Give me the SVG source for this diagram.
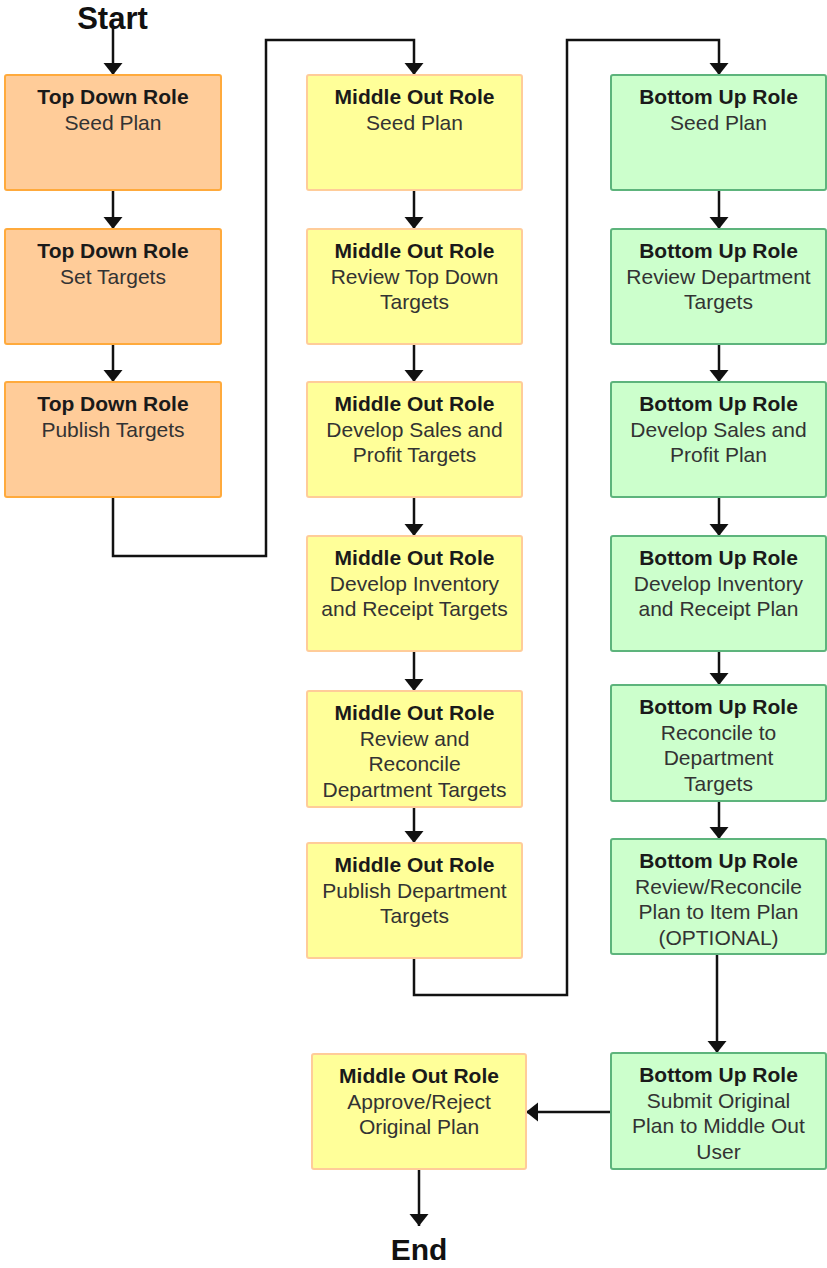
<svg xmlns="http://www.w3.org/2000/svg" width="827" height="1268" viewBox="0 0 827 1268">
<style>
.td{fill:#FFCC99;stroke:#FFAA3C;stroke-width:2}
.mo{fill:#FFFF99;stroke:#FFCC99;stroke-width:2}
.bu{fill:#CCFFCC;stroke:#5DB47C;stroke-width:2}
text{font-family:"Liberation Sans",Arial,sans-serif;font-size:21px;text-anchor:middle;fill:#333}
.t{font-weight:bold;fill:#1a1a1a}
.big{font-weight:bold;font-size:31px;fill:#111}
.end{font-size:30px}
.c{fill:none;stroke:#111;stroke-width:2.5;marker-end:url(#ah)}
</style>
<defs>
<marker id="ah" markerUnits="userSpaceOnUse" markerWidth="14" markerHeight="20" refX="12" refY="9.5" orient="auto">
<path d="M0,0 L12,9.5 L0,19 Z" fill="#111"/>
</marker>
</defs>
<text class="big" x="112.5" y="29">Start</text>
<text class="big end" x="419" y="1260">End</text>
<g id="connectors">
<path class="c" d="M113,28 V75"/>
<path class="c" d="M113,190 V229"/>
<path class="c" d="M113,344 V382"/>
<path class="c" d="M113,497 V556 H266 V40 H414 V75"/>
<path class="c" d="M414,190 V229"/>
<path class="c" d="M414,344 V382"/>
<path class="c" d="M414,497 V536"/>
<path class="c" d="M414,651 V691"/>
<path class="c" d="M414,807 V843"/>
<path class="c" d="M414,958 V995 H567 V40 H719 V75"/>
<path class="c" d="M719,190 V229"/>
<path class="c" d="M719,344 V382"/>
<path class="c" d="M719,497 V536"/>
<path class="c" d="M719,651 V685"/>
<path class="c" d="M719,801 V839"/>
<path class="c" d="M717,954 V1053"/>
<path class="c" d="M611,1112 H526"/>
<path class="c" d="M419,1169 V1226"/>
</g>
<g id="td1"><rect class="td" x="5" y="75" width="216" height="115" rx="2"/><text x="113" y="104"><tspan class="t">Top Down Role</tspan><tspan x="113" y="130">Seed Plan</tspan></text></g>
<g id="td2"><rect class="td" x="5" y="229" width="216" height="115" rx="2"/><text x="113" y="258"><tspan class="t">Top Down Role</tspan><tspan x="113" y="284">Set Targets</tspan></text></g>
<g id="td3"><rect class="td" x="5" y="382" width="216" height="115" rx="2"/><text x="113" y="411"><tspan class="t">Top Down Role</tspan><tspan x="113" y="437">Publish Targets</tspan></text></g>

<g id="mo1"><rect class="mo" x="307" y="75" width="215" height="115" rx="2"/><text x="414.5" y="104"><tspan class="t">Middle Out Role</tspan><tspan x="414.5" y="130">Seed Plan</tspan></text></g>
<g id="mo2"><rect class="mo" x="307" y="229" width="215" height="115" rx="2"/><text x="414.5" y="258"><tspan class="t">Middle Out Role</tspan><tspan x="414.5" y="284">Review Top Down</tspan><tspan x="414.5" y="309">Targets</tspan></text></g>
<g id="mo3"><rect class="mo" x="307" y="382" width="215" height="115" rx="2"/><text x="414.5" y="411"><tspan class="t">Middle Out Role</tspan><tspan x="414.5" y="437">Develop Sales and</tspan><tspan x="414.5" y="462">Profit Targets</tspan></text></g>
<g id="mo4"><rect class="mo" x="307" y="536" width="215" height="115" rx="2"/><text x="414.5" y="565"><tspan class="t">Middle Out Role</tspan><tspan x="414.5" y="591">Develop Inventory</tspan><tspan x="414.5" y="616">and Receipt Targets</tspan></text></g>
<g id="mo5"><rect class="mo" x="307" y="691" width="215" height="116" rx="2"/><text x="414.5" y="720"><tspan class="t">Middle Out Role</tspan><tspan x="414.5" y="746">Review and</tspan><tspan x="414.5" y="771">Reconcile</tspan><tspan x="414.5" y="797">Department Targets</tspan></text></g>
<g id="mo6"><rect class="mo" x="307" y="843" width="215" height="115" rx="2"/><text x="414.5" y="872"><tspan class="t">Middle Out Role</tspan><tspan x="414.5" y="898">Publish Department</tspan><tspan x="414.5" y="923">Targets</tspan></text></g>

<g id="bu1"><rect class="bu" x="611" y="75" width="215" height="115" rx="2"/><text x="718.5" y="104"><tspan class="t">Bottom Up Role</tspan><tspan x="718.5" y="130">Seed Plan</tspan></text></g>
<g id="bu2"><rect class="bu" x="611" y="229" width="215" height="115" rx="2"/><text x="718.5" y="258"><tspan class="t">Bottom Up Role</tspan><tspan x="718.5" y="284">Review Department</tspan><tspan x="718.5" y="309">Targets</tspan></text></g>
<g id="bu3"><rect class="bu" x="611" y="382" width="215" height="115" rx="2"/><text x="718.5" y="411"><tspan class="t">Bottom Up Role</tspan><tspan x="718.5" y="437">Develop Sales and</tspan><tspan x="718.5" y="462">Profit Plan</tspan></text></g>
<g id="bu4"><rect class="bu" x="611" y="536" width="215" height="115" rx="2"/><text x="718.5" y="565"><tspan class="t">Bottom Up Role</tspan><tspan x="718.5" y="591">Develop Inventory</tspan><tspan x="718.5" y="616">and Receipt Plan</tspan></text></g>
<g id="bu5"><rect class="bu" x="611" y="685" width="215" height="116" rx="2"/><text x="718.5" y="714"><tspan class="t">Bottom Up Role</tspan><tspan x="718.5" y="740">Reconcile to</tspan><tspan x="718.5" y="765">Department</tspan><tspan x="718.5" y="791">Targets</tspan></text></g>
<g id="bu6"><rect class="bu" x="611" y="839" width="215" height="115" rx="2"/><text x="718.5" y="868"><tspan class="t">Bottom Up Role</tspan><tspan x="718.5" y="894">Review/Reconcile</tspan><tspan x="718.5" y="919">Plan to Item Plan</tspan><tspan x="718.5" y="945">(OPTIONAL)</tspan></text></g>
<g id="bu7"><rect class="bu" x="611" y="1053" width="215" height="116" rx="2"/><text x="718.5" y="1082"><tspan class="t">Bottom Up Role</tspan><tspan x="718.5" y="1108">Submit Original</tspan><tspan x="718.5" y="1133">Plan to Middle Out</tspan><tspan x="718.5" y="1159">User</tspan></text></g>

<g id="mo7"><rect class="mo" x="312" y="1054" width="214" height="115" rx="2"/><text x="419" y="1083"><tspan class="t">Middle Out Role</tspan><tspan x="419" y="1109">Approve/Reject</tspan><tspan x="419" y="1134">Original Plan</tspan></text></g>
</svg>
